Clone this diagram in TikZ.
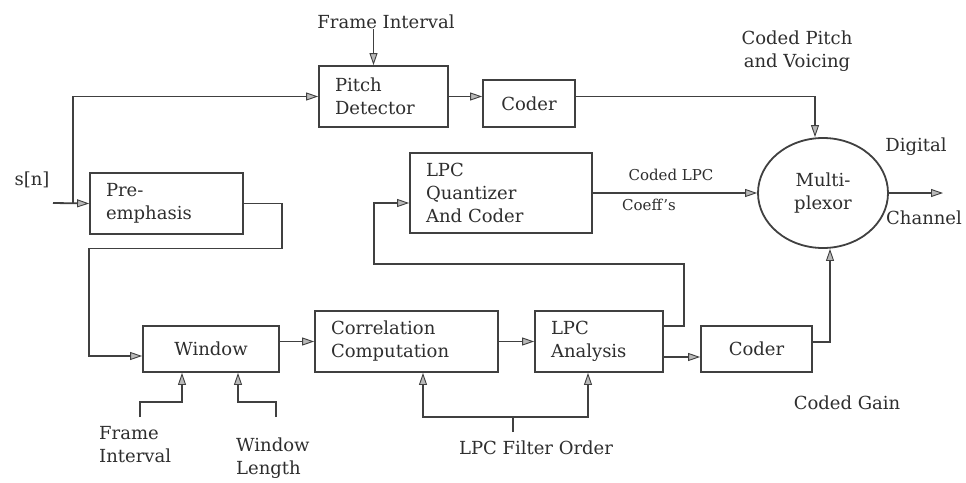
\documentclass[tikz,border=0pt]{standalone}
\usepackage{fontspec}
\setmainfont{DejaVu Serif}
\usetikzlibrary{arrows.meta,shapes.geometric}
\definecolor{ln}{HTML}{404040}
\definecolor{tx}{HTML}{2E2E2E}
\begin{document}
\begin{tikzpicture}[x=1pt,y=-1pt,
  every node/.style={text=tx,font=\fontsize{18pt}{23pt}\selectfont},
  blk/.style={draw=ln,line width=1.8pt,inner xsep=16pt,inner ysep=0pt,align=left},
  cblk/.style={draw=ln,line width=1.8pt,inner sep=0pt,align=center},
  lbl/.style={inner sep=0pt,align=left},
  small/.style={inner sep=0pt,align=left,font=\fontsize{15pt}{18pt}\selectfont},
  wire/.style={draw=ln,line width=1.8pt},
  arr/.style={wire,-{Triangle[length=12pt,width=8pt,fill=gray!55,line width=0.9pt]}}]
\useasboundingbox (0,0) rectangle (966,482);
\fill[white] (0,0) rectangle (966,482);

% blocks
\node[blk,text width=97pt,minimum height=61pt] (pitch) at (383.5,96.5) {Pitch\\Detector};
\node[cblk,minimum width=92pt,minimum height=47pt] (coderA) at (529,103.5) {Coder};
\node[blk,text width=121pt,minimum height=61pt] (pre) at (166.5,203.5) {Pre-\\emphasis};
\node[blk,text width=150pt,minimum height=80pt] (quant) at (501,193) {LPC\\Quantizer\\And Coder};
\node[draw=ln,line width=1.8pt,ellipse,minimum width=130pt,minimum height=110pt,inner sep=0pt,align=center] (mux) at (823,193) {Multi-\\plexor};
\node[cblk,minimum width=136pt,minimum height=46pt] (window) at (211,349) {Window};
\node[blk,text width=151pt,minimum height=61pt] (corr) at (406.5,341.5) {Correlation\\Computation};
\node[blk,text width=96pt,minimum height=61pt] (anal) at (599,341.5) {LPC\\Analysis};
\node[cblk,minimum width=111pt,minimum height=46pt] (coderB) at (756.5,349) {Coder};

% labels
\node[lbl] (fitop) at (386,22) {Frame Interval};
\node[lbl] (sn) at (32,180) {s[n]};
\node[lbl,align=center] (cpv) at (797,51) {Coded Pitch\\and Voicing};
\node[lbl] (dig) at (916,147) {Digital};
\node[lbl] (chan) at (924,218) {Channel};
\node[small] (clpc) at (671,175) {Coded LPC};
\node[small,anchor=west] (coef) at (622,205) {Coeff's};
\node[lbl] (cgain) at (847,403) {Coded Gain};
\node[lbl,anchor=west] (fibot) at (99,445) {Frame\\Interval};
\node[lbl,anchor=west] (wlen) at (236,458) {Window\\Length};
\node[lbl] (forder) at (536,448) {LPC Filter Order};

% helper coordinates
\coordinate (in) at (53,203);
\coordinate (br) at (73,203);
\coordinate (fiA) at ([xshift=-10pt]pitch.north);
\coordinate (winIn) at ([yshift=-7pt]window.west);
\coordinate (c2in) at ([yshift=-8pt]coderB.west);
\coordinate (fbk) at ([yshift=15.5pt]anal.east);
\coordinate (qin) at ([yshift=-10pt]quant.west);
\coordinate (out) at (943,193);
\coordinate (fiw) at (140,417);
\coordinate (wlw) at (276,417);
\coordinate (fo) at (513,432);
\coordinate (foj) at (513,417);

% connectors
\draw[arr] (fiA |- fitop.south) -- (fiA);
\draw[arr] (in) -- (pre.west);
\draw[arr] (br) |- (pitch.west);
\draw[arr] (pitch.east) -- (pitch.east -| coderA.west);
\draw[arr] (coderA.east |- pitch.east) -| ([xshift=-8pt]mux.north);
\draw[arr] (quant.east) -- (mux.west);
\draw[arr] (mux.east) -- (out);
\draw[arr] (pre.east) -- ++(38,0) -- ++(0,45) -- ++(-193,0) |- (winIn);
\draw[arr] (corr.west -| window.east) -- (corr.west);
\draw[arr] (corr.east) -- (anal.west);
\draw[arr] (c2in -| anal.east) -- (c2in);
\draw[arr] ([yshift=7pt]coderB.east) -| ([xshift=7pt]mux.south);
\draw[arr] (fbk) -- ++(20,0) -- ++(0,-62) -- ++(-310,0) |- (qin);
\draw[arr] (fiw) -- ++(0,-15) -| ([xshift=-29pt]window.south);
\draw[arr] (wlw) -- ++(0,-15) -| ([xshift=27pt]window.south);
\draw[wire] (fo) -- (foj);
\draw[arr] (foj) -| ([xshift=16.5pt]corr.south);
\draw[arr] (foj) -| ([xshift=-11pt]anal.south);
\end{tikzpicture}
\end{document}
